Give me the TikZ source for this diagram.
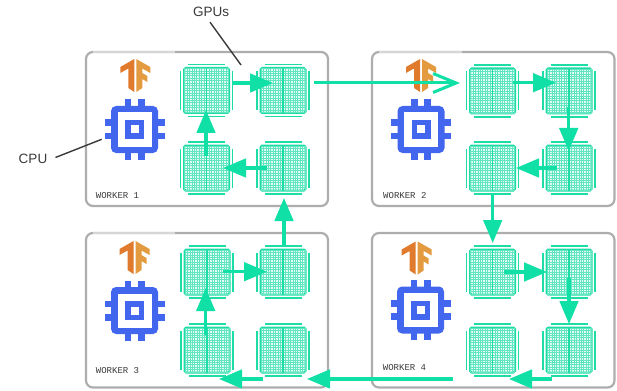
\documentclass[tikz,border=0pt]{standalone}
\usepackage{fontspec}
\setmainfont{Liberation Sans}
\setmonofont{Liberation Mono}
\usetikzlibrary{arrows.meta}
\definecolor{mint}{HTML}{10DFA6}
\definecolor{chipline}{HTML}{1EDCA6}
\definecolor{boxgray}{HTML}{ADADAD}
\definecolor{boxlight}{HTML}{D6D6D6}
\definecolor{cpublue}{HTML}{4266EE}
\definecolor{tfleft}{HTML}{E07A2C}
\definecolor{tfright}{HTML}{E49A3E}
\definecolor{inkgray}{HTML}{3A3A3A}
\tikzset{
  x=1pt,y=-1pt,
  workerbox/.style={draw=boxgray,line width=2.2pt,rounded corners=7pt,fill=white},
  chipbox/.style={draw=chipline,line width=2pt,rounded corners=1.5pt,minimum width=45pt,minimum height=45pt,inner sep=0pt,outer sep=0pt,fill=chipline!12},
  chipgrid/.style={draw=chipline!70,line width=0.6pt},
  chipbar/.style={draw=chipline,line width=1.9pt},
  flow/.style={draw=mint,line width=3.2pt,-{Triangle[length=23pt,width=18.5pt]}},
  openflow/.style={draw=mint,line width=3pt,-{Straight Barb[length=23pt,width=19pt,line width=3pt]}},
  leader/.style={draw=inkgray,line width=1.4pt},
  workerlabel/.style={font=\ttfamily\fontsize{9}{9}\selectfont,text=inkgray,anchor=west,inner sep=0pt},
  calloutlabel/.style={font=\fontsize{13.5}{14}\selectfont,text=inkgray,inner sep=0pt}
}
\newcommand{\gpuchip}[3]{%
  \node[chipbox] (#1) at (#2,#3) {};
  \begin{scope}[shift={(#2,#3)}]
    \foreach \k in {-9,...,9}{
      \draw[chipgrid] (\k*2.45,-22) -- (\k*2.45,22);
      \draw[chipgrid] (-22,\k*2.45) -- (22,\k*2.45);
    }
    \draw[chipline,line width=1.8pt] (0,-22.5) -- (0,22.5);
    \draw[chipbar] (-26,-19.5) -- (-26,19.5);
    \draw[chipbar] (26,-19.5) -- (26,19.5);
    \draw[chipbar] (-18.5,-26) -- (18.5,-26);
    \draw[chipbar] (-18.5,26) -- (18.5,26);
  \end{scope}
}
\newcommand{\cpuchip}[2]{%
  \begin{scope}[shift={(#1,#2)}]
    \foreach \o in {-6.7,6.7}{
      \fill[cpublue] (\o-3.3,-30) rectangle (\o+3.3,30);
      \fill[cpublue] (-30,\o-3.3) rectangle (30,\o+3.3);
    }
    \fill[cpublue,rounded corners=5pt] (-23.5,-23.5) rectangle (23.5,23.5);
    \fill[white] (-17,-17) rectangle (17,17);
    \fill[cpublue] (-9.5,-9.5) rectangle (9.5,9.5);
    \fill[white] (-4,-4) rectangle (4,4);
  \end{scope}
}
\newcommand{\tflogo}[2]{%
  \begin{scope}[shift={(#1,#2)}]
    \fill[tfleft] (-1,0) -- (-15,8) -- (-15,14) -- (-7,9.5) -- (-7,29) -- (-1,33) -- cycle;
    \fill[tfright] (1,0) -- (15,8) -- (15,14) -- (7,9.5) -- (7,14) -- (12,17) -- (12,23) -- (7,20) -- (7,29) -- (1,33) -- cycle;
  \end{scope}
}
\begin{document}
\begin{tikzpicture}
\useasboundingbox (0,0) rectangle (617,390);
% worker frames
\draw[workerbox] (86,52) rectangle (328,206);
\draw[workerbox] (372,52) rectangle (614.5,206);
\draw[workerbox] (86,233) rectangle (328,387.5);
\draw[workerbox] (372,233) rectangle (614.5,387.5);
\draw[boxlight,line width=2.2pt] (93,52) -- (175,52);
\draw[boxlight,line width=2.2pt] (379,52) -- (462,52);
\draw[boxlight,line width=2.2pt] (93,233) -- (175,233);
% logos and cpus
\tflogo{135.3}{59}
\tflogo{421}{59}
\tflogo{134.5}{241}
\tflogo{416.7}{241.5}
\cpuchip{134.5}{129.5}
\cpuchip{421}{129.5}
\cpuchip{134.5}{310.5}
\cpuchip{420.5}{310}
% gpus
\gpuchip{ga}{206.5}{90.5}
\gpuchip{gb}{283}{90.5}
\gpuchip{gc}{206.5}{168}
\gpuchip{gd}{283}{168}
\gpuchip{ha}{492.5}{91}
\gpuchip{hb}{569}{91}
\gpuchip{hc}{492.5}{168}
\gpuchip{hd}{569}{168}
\gpuchip{ia}{207}{272}
\gpuchip{ib}{283}{272}
\gpuchip{ic}{207}{350}
\gpuchip{id}{283}{350}
\gpuchip{ja}{492.5}{272}
\gpuchip{jb}{569}{272}
\gpuchip{jc}{492.5}{350}
\gpuchip{jd}{569}{350}
% labels
\node[workerlabel] (w1) at (95.7,195.7) {WORKER 1};
\node[workerlabel] (w2) at (383,196) {WORKER 2};
\node[workerlabel] (w3) at (95.7,371) {WORKER 3};
\node[workerlabel] (w4) at (382.7,368) {WORKER 4};
\node[calloutlabel] (gpus) at (211,11.7) {GPUs};
\node[calloutlabel] (cpus) at (33,158.5) {CPU};
\coordinate (gpuend) at (241,65);
\coordinate (cpuend) at (101.7,139.3);
\draw[leader] (gpus.south) ++(-1,5.5) -- (gpuend);
\draw[leader] (cpus.east) ++(8,-1) -- (cpuend);
% flows
\draw[flow] ([shift={(25.5,-7.5)}]ga.center) -- ([shift={(-10,-7.5)}]gb.center);
\draw[flow] ([shift={(-0.5,65)}]ga.center) -- ([shift={(-0.5,19.5)}]ga.center);
\draw[flow] ([shift={(-16,0)}]gd.center) -- ([shift={(16.5,0)}]gc.center);
\draw[openflow] ([shift={(31,-7.5)}]gb.center) -- ([shift={(-32.5,-8)}]ha.center);
\draw[flow] ([shift={(20.5,-8.3)}]ha.center) -- ([shift={(-13,-8.3)}]hb.center);
\draw[flow] ([shift={(-0.3,15.7)}]hb.center) -- ([shift={(-0.3,-17)}]hd.center);
\draw[flow] ([shift={(-12,0)}]hd.center) -- ([shift={(23.5,0)}]hc.center);
\draw[flow] ([shift={(0.2,27)}]hc.center) -- ([shift={(0.2,-29)}]ja.center);
\draw[flow] ([shift={(11.5,0)}]ja.center) -- ([shift={(-22,0)}]jb.center);
\draw[flow] ([shift={(0,6)}]jb.center) -- ([shift={(0,-26)}]jd.center);
\draw[flow] ([shift={(-17,29)}]jd.center) -- ([shift={(16.5,29)}]jc.center);
\draw[flow] ([shift={(-39.5,29)}]jc.center) -- ([shift={(24,29)}]id.center);
\draw[flow] ([shift={(-20,29)}]id.center) -- ([shift={(12,29)}]ic.center);
\draw[flow] ([shift={(-1.3,-15)}]ic.center) -- ([shift={(-1.3,16)}]ia.center);
\draw[flow] ([shift={(16,-0.3)}]ia.center) -- ([shift={(-16,-0.3)}]ib.center);
\draw[flow] ([shift={(1,-27)}]ib.center) -- ([shift={(1,30)}]gd.center);
\end{tikzpicture}
\end{document}
